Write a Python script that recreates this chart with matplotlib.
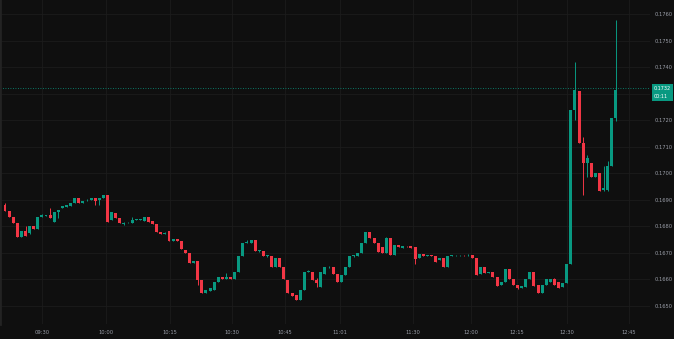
import matplotlib
matplotlib.use("Agg")
import matplotlib.pyplot as plt
from matplotlib.patches import Rectangle

# OHLC of each candle (oldest first)
opens = [
    0.16879, 0.16857, 0.16834, 0.16810, 0.16757, 0.16781, 0.16774, 0.16800, 0.16789, 0.16834,
    0.16838, 0.16842, 0.16815, 0.16853, 0.16868, 0.16872, 0.16875, 0.16887, 0.16906, 0.16887,
    0.16898, 0.16898, 0.16906, 0.16898, 0.16906, 0.16917, 0.16823, 0.16849, 0.16830, 0.16808,
    0.16811, 0.16811, 0.16823, 0.16823, 0.16819, 0.16834, 0.16819, 0.16808, 0.16777, 0.16770,
    0.16781, 0.16743, 0.16751, 0.16743, 0.16709, 0.16698, 0.16660, 0.16668, 0.16596, 0.16547,
    0.16555, 0.16558, 0.16589, 0.16608, 0.16600, 0.16608, 0.16600, 0.16626, 0.16687, 0.16736,
    0.16736, 0.16747, 0.16706, 0.16706, 0.16687, 0.16687, 0.16645, 0.16679, 0.16645, 0.16596,
    0.16547, 0.16540, 0.16521, 0.16558, 0.16626, 0.16626, 0.16596, 0.16570, 0.16619, 0.16645,
    0.16645, 0.16619, 0.16589, 0.16615, 0.16645, 0.16687, 0.16687, 0.16698, 0.16736, 0.16777,
    0.16755, 0.16736, 0.16721, 0.16698, 0.16755, 0.16691, 0.16728, 0.16717, 0.16725, 0.16725,
    0.16721, 0.16679, 0.16694, 0.16687, 0.16689, 0.16687, 0.16672, 0.16679, 0.16645, 0.16687,
    0.16689, 0.16689, 0.16691, 0.16689, 0.16691, 0.16679, 0.16619, 0.16645, 0.16623, 0.16626,
    0.16608, 0.16577, 0.16589, 0.16638, 0.16600, 0.16577, 0.16566, 0.16570, 0.16600, 0.16626,
    0.16577, 0.16547, 0.16577, 0.16589, 0.16600, 0.16589, 0.16570, 0.16585, 0.16657, 0.17238,
    0.17309, 0.17113, 0.17038, 0.17038, 0.16985, 0.17000, 0.16936, 0.16936, 0.17026, 0.17208,
]
highs = [
    0.16885, 0.16857, 0.16834, 0.16810, 0.16781, 0.16800, 0.16800, 0.16800, 0.16834, 0.16845,
    0.16842, 0.16868, 0.16853, 0.16860, 0.16875, 0.16879, 0.16887, 0.16906, 0.16906, 0.16894,
    0.16902, 0.16906, 0.16906, 0.16906, 0.16917, 0.16917, 0.16853, 0.16849, 0.16830, 0.16815,
    0.16815, 0.16834, 0.16826, 0.16826, 0.16834, 0.16834, 0.16819, 0.16808, 0.16777, 0.16776,
    0.16781, 0.16751, 0.16751, 0.16743, 0.16709, 0.16698, 0.16668, 0.16668, 0.16596, 0.16558,
    0.16566, 0.16589, 0.16608, 0.16608, 0.16623, 0.16608, 0.16626, 0.16687, 0.16736, 0.16747,
    0.16747, 0.16747, 0.16710, 0.16706, 0.16690, 0.16687, 0.16679, 0.16679, 0.16645, 0.16596,
    0.16547, 0.16540, 0.16558, 0.16626, 0.16634, 0.16626, 0.16604, 0.16626, 0.16645, 0.16649,
    0.16645, 0.16619, 0.16615, 0.16645, 0.16687, 0.16691, 0.16698, 0.16736, 0.16777, 0.16777,
    0.16755, 0.16736, 0.16721, 0.16759, 0.16755, 0.16728, 0.16728, 0.16725, 0.16725, 0.16725,
    0.16721, 0.16694, 0.16694, 0.16691, 0.16691, 0.16687, 0.16679, 0.16679, 0.16687, 0.16691,
    0.16691, 0.16691, 0.16691, 0.16694, 0.16691, 0.16679, 0.16645, 0.16645, 0.16628, 0.16626,
    0.16608, 0.16589, 0.16638, 0.16638, 0.16600, 0.16577, 0.16574, 0.16600, 0.16626, 0.16626,
    0.16577, 0.16577, 0.16600, 0.16600, 0.16604, 0.16589, 0.16585, 0.16657, 0.17238, 0.17419,
    0.17309, 0.17136, 0.17068, 0.17038, 0.17000, 0.17000, 0.17026, 0.17045, 0.17208, 0.17577,
]
lows = [
    0.16857, 0.16834, 0.16811, 0.16757, 0.16757, 0.16762, 0.16770, 0.16789, 0.16789, 0.16834,
    0.16838, 0.16830, 0.16815, 0.16830, 0.16868, 0.16872, 0.16875, 0.16887, 0.16887, 0.16887,
    0.16896, 0.16898, 0.16879, 0.16879, 0.16906, 0.16815, 0.16823, 0.16830, 0.16811, 0.16804,
    0.16811, 0.16811, 0.16823, 0.16823, 0.16819, 0.16815, 0.16808, 0.16777, 0.16770, 0.16768,
    0.16743, 0.16743, 0.16743, 0.16713, 0.16698, 0.16660, 0.16660, 0.16577, 0.16547, 0.16547,
    0.16555, 0.16558, 0.16589, 0.16600, 0.16600, 0.16600, 0.16600, 0.16626, 0.16687, 0.16736,
    0.16736, 0.16706, 0.16702, 0.16687, 0.16683, 0.16645, 0.16645, 0.16645, 0.16600, 0.16547,
    0.16536, 0.16521, 0.16521, 0.16558, 0.16626, 0.16596, 0.16570, 0.16570, 0.16619, 0.16642,
    0.16619, 0.16589, 0.16589, 0.16615, 0.16645, 0.16683, 0.16687, 0.16698, 0.16736, 0.16755,
    0.16736, 0.16702, 0.16698, 0.16698, 0.16691, 0.16691, 0.16721, 0.16717, 0.16721, 0.16717,
    0.16657, 0.16679, 0.16687, 0.16687, 0.16685, 0.16664, 0.16672, 0.16645, 0.16645, 0.16687,
    0.16687, 0.16687, 0.16687, 0.16687, 0.16679, 0.16615, 0.16619, 0.16623, 0.16621, 0.16608,
    0.16574, 0.16577, 0.16589, 0.16600, 0.16577, 0.16562, 0.16566, 0.16570, 0.16600, 0.16574,
    0.16547, 0.16547, 0.16577, 0.16589, 0.16577, 0.16566, 0.16570, 0.16585, 0.16657, 0.17200,
    0.17113, 0.16917, 0.16985, 0.16985, 0.16985, 0.16932, 0.16932, 0.16932, 0.17026, 0.17196,
]
closes = [
    0.16857, 0.16834, 0.16811, 0.16757, 0.16781, 0.16762, 0.16800, 0.16789, 0.16834, 0.16842,
    0.16842, 0.16830, 0.16853, 0.16860, 0.16875, 0.16879, 0.16887, 0.16906, 0.16887, 0.16894,
    0.16900, 0.16906, 0.16894, 0.16906, 0.16917, 0.16815, 0.16853, 0.16830, 0.16811, 0.16811,
    0.16813, 0.16823, 0.16823, 0.16825, 0.16834, 0.16815, 0.16808, 0.16777, 0.16770, 0.16774,
    0.16743, 0.16751, 0.16743, 0.16713, 0.16698, 0.16660, 0.16668, 0.16596, 0.16547, 0.16558,
    0.16566, 0.16589, 0.16608, 0.16600, 0.16608, 0.16600, 0.16626, 0.16687, 0.16736, 0.16740,
    0.16747, 0.16706, 0.16706, 0.16687, 0.16687, 0.16645, 0.16679, 0.16645, 0.16600, 0.16547,
    0.16536, 0.16521, 0.16558, 0.16626, 0.16630, 0.16596, 0.16585, 0.16626, 0.16645, 0.16645,
    0.16619, 0.16589, 0.16615, 0.16645, 0.16687, 0.16691, 0.16698, 0.16736, 0.16777, 0.16755,
    0.16736, 0.16702, 0.16698, 0.16755, 0.16691, 0.16728, 0.16721, 0.16725, 0.16723, 0.16717,
    0.16676, 0.16694, 0.16687, 0.16689, 0.16687, 0.16664, 0.16679, 0.16645, 0.16687, 0.16689,
    0.16689, 0.16691, 0.16689, 0.16691, 0.16679, 0.16615, 0.16645, 0.16623, 0.16626, 0.16608,
    0.16574, 0.16589, 0.16638, 0.16600, 0.16577, 0.16566, 0.16574, 0.16600, 0.16626, 0.16574,
    0.16547, 0.16577, 0.16600, 0.16600, 0.16577, 0.16566, 0.16585, 0.16657, 0.17238, 0.17315,
    0.17113, 0.17038, 0.17057, 0.16985, 0.17000, 0.16932, 0.16944, 0.17026, 0.17208, 0.17315,
]

time_labels = ["09:30", "10:00", "10:15", "10:30", "10:45", "11:01",
               "11:30", "12:00", "12:15", "12:30", "12:45"]
time_bars = [9.0, 24.6, 40.2, 55.4, 68.3, 81.7, 99.5, 113.7, 124.9, 137.1, 152.2]
price_ticks = [0.1650, 0.1660, 0.1670, 0.1680, 0.1690, 0.1700,
               0.1710, 0.1720, 0.1730, 0.1740, 0.1750, 0.1760]
last_price = "0.1732"
countdown = "00:11"

BG = "#0f0f0f"
UP = "#089981"
DOWN = "#f23645"
GRID = "#1c1c1c"
TXT = "#9a9ea8"
W, H = 674, 339

fig = plt.figure(figsize=(W / 100, H / 100), dpi=100, facecolor=BG)
ax = fig.add_axes([0, 15 / H, 650 / W, 1 - 15 / H])
ax.set_facecolor(BG)

# candles
idx = list(range(len(opens)))
colors = [UP if c >= o else DOWN for o, c in zip(opens, closes)]
bottoms = [min(o, c) for o, c in zip(opens, closes)]
heights = [max(abs(c - o), 0.00002) for o, c in zip(opens, closes)]
ax.vlines(idx, lows, highs, colors=colors, linewidth=0.7, zorder=3)
ax.bar(idx, heights, bottom=bottoms, width=0.72, color=colors, linewidth=0, zorder=4)

# last price dotted line
ax.axhline(float(last_price), color=UP, linestyle=(0, (1, 2)), linewidth=0.6, zorder=2)

ax.set_xlim(-1.22, 157.3)
ax.set_ylim(0.17 - (324 - 173) / 26500, 0.17 + 173 / 26500)

# the 0.1730 label sits under the last-price tag, so it is left blank
ax.set_yticks(price_ticks)
ax.set_yticklabels(["" if abs(p - float(last_price)) < 0.0005 else f"{p:.4f}"
                    for p in price_ticks])
ax.yaxis.tick_right()
ax.set_xticks(time_bars)
ax.set_xticklabels(time_labels)
ax.tick_params(axis="both", length=0, labelsize=3.7, labelcolor=TXT)
ax.tick_params(axis="y", pad=3)
ax.tick_params(axis="x", pad=4)
ax.grid(True, color=GRID, linewidth=0.6, zorder=0)

for side in ["top", "right", "bottom"]:
    ax.spines[side].set_visible(False)
ax.spines["left"].set_color("#232323")
ax.spines["left"].set_linewidth(2)

# last price label on the price scale
fig.add_artist(Rectangle((652 / W, 1 - 101 / H), 21 / W, 17 / H,
                         transform=fig.transFigure, facecolor=UP, edgecolor="none"))
fig.text(654 / W, 1 - 88.5 / H, last_price, color="white", fontsize=3.5, va="center")
fig.text(654 / W, 1 - 96.5 / H, countdown, color="white", fontsize=3.5, va="center")

fig.savefig("out.png", dpi=100, facecolor=BG)
